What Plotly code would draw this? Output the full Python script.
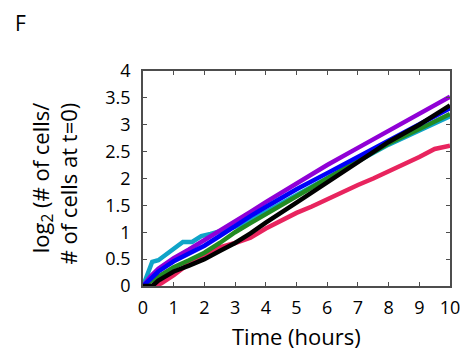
import plotly.graph_objects as go

# ---- data ----
t_purple = [0, 0.25, 0.5, 1, 1.5, 2, 2.5, 3, 3.5, 4, 5, 6, 7, 8, 9, 10]
y_purple = [0, 0.18, 0.32, 0.52, 0.68, 0.85, 1.02, 1.2, 1.38, 1.56, 1.91, 2.25, 2.57, 2.89, 3.21, 3.52]

t_blue = [0, 0.25, 0.5, 1, 1.5, 2, 2.5, 3, 3.5, 4, 5, 6, 7, 8, 9, 10]
y_blue = [0, 0.15, 0.27, 0.46, 0.6, 0.75, 0.93, 1.12, 1.3, 1.47, 1.8, 2.1, 2.4, 2.7, 3.0, 3.31]

t_green = [0, 0.5, 1, 1.5, 2, 2.5, 3, 3.5, 4, 5, 6, 7, 8, 9, 10]
y_green = [0, 0.17, 0.35, 0.48, 0.62, 0.8, 1.0, 1.17, 1.34, 1.68, 2.0, 2.33, 2.65, 2.92, 3.2]

t_cyan = [0, 0.15, 0.3, 0.5, 0.75, 1, 1.3, 1.6, 1.9, 2.2, 2.5, 3, 3.5, 4, 5, 6, 7, 8, 9, 10]
y_cyan = [0, 0.2, 0.45, 0.48, 0.58, 0.7, 0.82, 0.82, 0.93, 0.97, 1.02, 1.1, 1.22, 1.38, 1.7, 2.0, 2.32, 2.63, 2.9, 3.16]

t_black = [0, 0.3, 0.5, 1, 1.5, 2, 2.5, 3, 3.5, 4, 5, 6, 7, 7.5, 8, 9, 10]
y_black = [0, 0.0, 0.1, 0.27, 0.38, 0.5, 0.65, 0.8, 0.98, 1.18, 1.55, 1.93, 2.3, 2.5, 2.68, 3.0, 3.36]

t_pink = [0, 0.4, 0.6, 1, 1.5, 2, 2.5, 3, 3.5, 4, 4.5, 5, 5.5, 6, 6.5, 7, 7.5, 8, 8.5, 9, 9.5, 9.75, 10]
y_pink = [0, 0.0, 0.05, 0.2, 0.42, 0.58, 0.72, 0.8, 0.9, 1.07, 1.22, 1.36, 1.48, 1.62, 1.75, 1.88, 2.0, 2.13, 2.26, 2.4, 2.55, 2.59, 2.61]

x_ticks = list(range(0, 11))
y_ticks = [0, 0.5, 1, 1.5, 2, 2.5, 3, 3.5, 4]
y_tick_labels = ["0", "0.5", "1", "1.5", "2", "2.5", "3", "3.5", "4"]

series = [
    (t_pink, y_pink, "#E8245E"),
    (t_cyan, y_cyan, "#0FA4C8"),
    (t_green, y_green, "#228B22"),
    (t_purple, y_purple, "#9000D6"),
    (t_blue, y_blue, "#0000FA"),
    (t_black, y_black, "#000000"),
]

FONT = "Open Sans"

fig = go.Figure()
for t, y, c in series:
    fig.add_trace(go.Scatter(x=t, y=y, mode="lines",
                             line=dict(color=c, width=4.5), showlegend=False,
                             hoverinfo="skip"))

axis_common = dict(showgrid=False, zeroline=False, showline=True, mirror="ticks",
                   linecolor="#4d4d4d", linewidth=1.5, ticks="inside", ticklen=4,
                   tickcolor="#4d4d4d", tickwidth=1,
                   tickfont=dict(family=FONT, size=18, color="#000"))

fig.update_xaxes(range=[0, 10], tickvals=x_ticks, ticklabelstandoff=5, **axis_common)
fig.update_yaxes(range=[0, 4], tickvals=y_ticks, ticktext=y_tick_labels,
                 ticklabelstandoff=7, **axis_common)

fig.update_layout(
    width=472, height=351,
    margin=dict(l=143, r=15, t=71, b=65),
    plot_bgcolor="white", paper_bgcolor="white",
    annotations=[
        dict(text="F", xref="paper", yref="paper", x=-0.4, y=1.221,
             xanchor="center", yanchor="middle", showarrow=False,
             font=dict(family=FONT, size=21, color="#000")),
        dict(text="Time (hours)", xref="paper", yref="paper", x=0.5, y=-0.232,
             xanchor="center", yanchor="middle", showarrow=False,
             font=dict(family=FONT, size=22, color="#000")),
        dict(text="log<sub>2</sub> (# of cells/<br># of cells at t=0)",
             xref="paper", yref="paper", x=-0.29, y=0.477, align="right",
             xanchor="center", yanchor="middle", showarrow=False, textangle=-90,
             font=dict(family=FONT, size=22, color="#000")),
    ],
)

fig.write_html("out.html", config={"displayModeBar": False},
               post_script="document.body.style.margin='0';")
